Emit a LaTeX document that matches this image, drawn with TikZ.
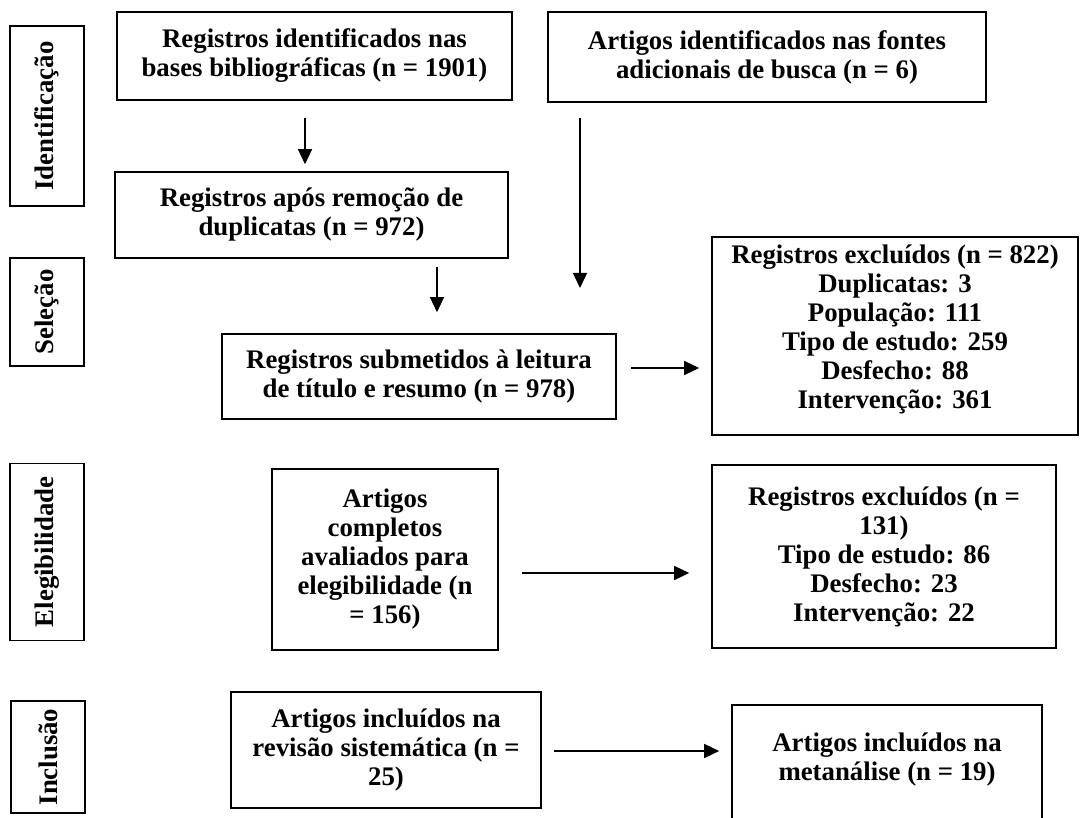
\documentclass[tikz,border=0pt]{standalone}
\usepackage{fontspec}
\setmainfont{Liberation Serif}
\usetikzlibrary{arrows.meta}
\begin{document}
\begin{tikzpicture}[x=1pt,y=-1pt,
  caixa/.style={draw=black,line width=1.6pt,align=center,inner sep=0pt,
    font=\fontsize{26.8}{29}\selectfont\bfseries},
  fase/.style={caixa,rotate=90,minimum height=74},
  seta/.style={line width=1.4pt,-{Triangle[length=15pt,width=14pt]}}]
\useasboundingbox (0,0) rectangle (1082,818);

%---------------------------------------------------
\node[fase,minimum width=180] (fid)  at (47,116) {Identificação};
\node[fase,minimum width=108] (fsel) at (47,312) {Seleção};
\node[fase,minimum width=177] (fele) at (47,552) {Elegibilidade};
\node[fase,minimum width=112] (finc) at (48,757) {Inclusão};

%---------------------------------------------------
\node[caixa,minimum width=395,minimum height=88] (bases) at (314.5,56)
  {Registros identificados nas\\bases bibliográficas (n = 1901)};
\node[caixa,minimum width=438,minimum height=90] (fontes) at (767,57)
  {Artigos identificados nas fontes\\adicionais de busca (n = 6)};
\node[caixa,minimum width=393,minimum height=86] (dupl) at (311.5,215)
  {Registros após remoção de\\duplicatas (n = 972)};
\node[caixa,minimum width=394,minimum height=85] (triag) at (419,376.5)
  {Registros submetidos à leitura\\de título e resumo (n = 978)};
\node[caixa,minimum width=366,minimum height=198] (excl1) at (895,336)
  {Registros excluídos (n = 822)\\Duplicatas: 3\\População: 111\\
   Tipo de estudo: 259\\Desfecho: 88\\Intervenção: 361\rule[-18pt]{0pt}{18pt}};

%---------------------------------------------------
\node[caixa,minimum width=226,minimum height=181] (compl) at (385,559.5)
  {Artigos\\completos\\avaliados para\\elegibilidade (n\\= 156)};
\node[caixa,minimum width=344,minimum height=183] (excl2) at (884,556.5)
  {Registros excluídos (n =\\131)\\Tipo de estudo: 86\\Desfecho: 23\\Intervenção: 22};

%---------------------------------------------------
\node[caixa,minimum width=310,minimum height=116] (revis) at (386,750)
  {Artigos incluídos na\\revisão sistemática (n =\\25)};
\node[caixa,draw=none,minimum width=308,minimum height=114] (meta) at (887,763)
  {Artigos incluídos na\\metanálise (n = 19)\rule[-12pt]{0pt}{12pt}};
\draw[line width=1.6pt] (meta.south west) |- (meta.north east) -- (meta.south east);

%---------------------------------------------------
\coordinate (fim2) at (580,288);
\draw[seta,shorten <=17pt,shorten >=7pt] (bases.south -| 305,0) -- (dupl.north -| 305,0);
\draw[seta,shorten <=15pt] (fontes.south -| fim2) -- (fim2);
\draw[seta,shorten <=8pt,shorten >=21pt] (dupl.south -| 437,0) -- (triag.north -| 437,0);
\draw[seta,shorten <=14pt,shorten >=12pt] (triag.east |- 0,368) -- (excl1.west |- 0,368);
\draw[seta,shorten <=23pt,shorten >=22pt] (compl.east |- 0,573) -- (excl2.west |- 0,573);
\draw[seta,shorten <=12pt,shorten >=13pt] (revis.east |- 0,751) -- (meta.west |- 0,751);
\end{tikzpicture}
\end{document}
